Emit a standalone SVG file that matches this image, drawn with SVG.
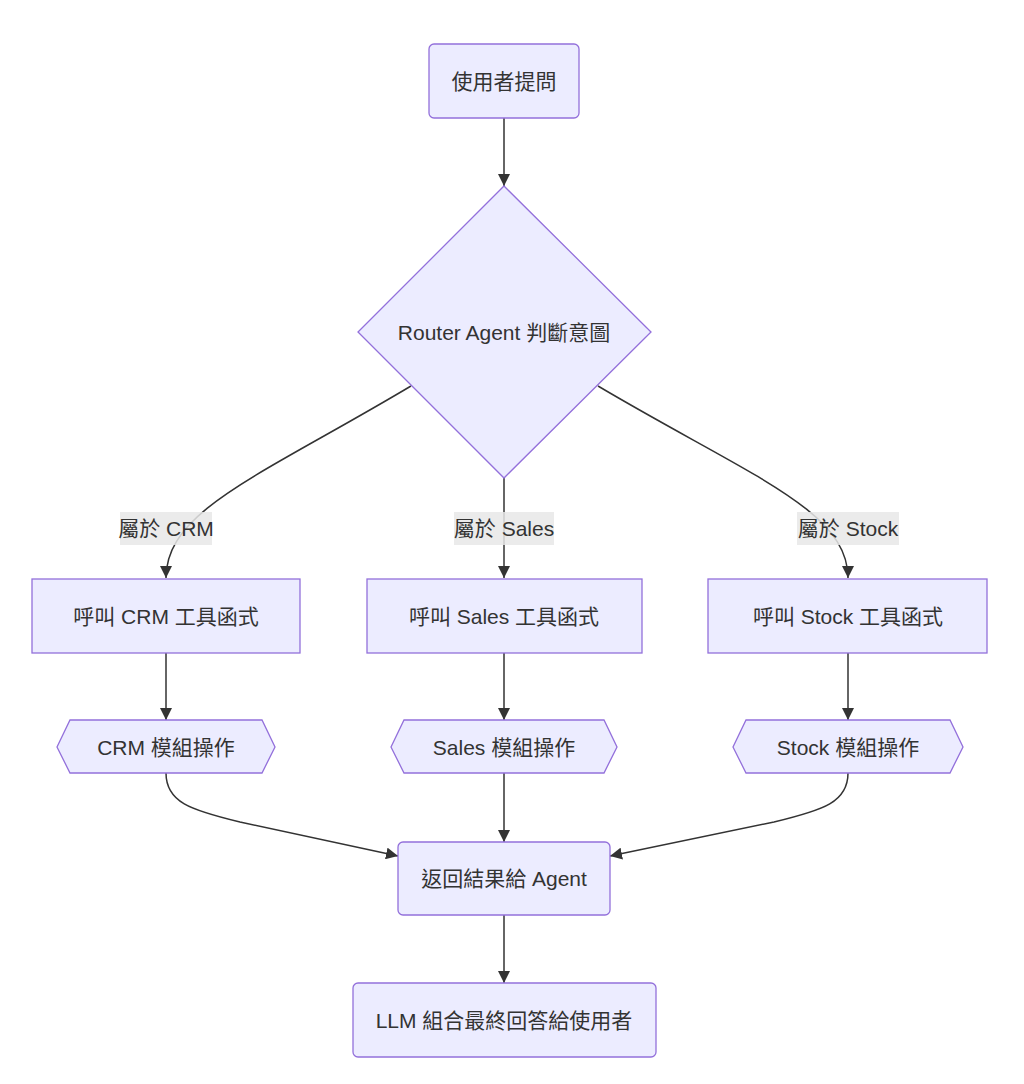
<svg xmlns="http://www.w3.org/2000/svg" width="1024" height="1084" viewBox="0 0 1024 1084">
<defs>
<style>
.node{fill:#ECECFF;stroke:#9370DB;stroke-width:1.3}
.lbl{font-family:"Liberation Sans","Noto Sans CJK TC",sans-serif;font-size:21px;fill:#333;text-anchor:middle;dominant-baseline:central}
.edge{fill:none;stroke:#333;stroke-width:1.5}
.elbg{fill:#e8e8e8;opacity:0.85}
</style>
<marker id="arr" viewBox="0 0 10 10" refX="10" refY="5" markerUnits="userSpaceOnUse" markerWidth="12" markerHeight="12" orient="auto">
<path d="M0,0 L10,5 L0,10 z" fill="#333"/>
</marker>
</defs>
<rect width="1024" height="1084" fill="#fff"/>
<g id="connectors">
<path class="edge" d="M504,118 L504,186" marker-end="url(#arr)"/>
<path class="edge" d="M411,386 C260,476 166,510 166,578" marker-end="url(#arr)"/>
<path class="edge" d="M504,478 L504,578" marker-end="url(#arr)"/>
<path class="edge" d="M598,386 C750,476 848,510 848,578" marker-end="url(#arr)"/>
<path class="edge" d="M166,653 L166,720" marker-end="url(#arr)"/>
<path class="edge" d="M504,653 L504,720" marker-end="url(#arr)"/>
<path class="edge" d="M848,653 L848,720" marker-end="url(#arr)"/>
<path class="edge" d="M166,773 C166,802 190,810 240,822 L398,856" marker-end="url(#arr)"/>
<path class="edge" d="M504,773 L504,842" marker-end="url(#arr)"/>
<path class="edge" d="M848,773 C848,802 824,810 774,822 L610,856" marker-end="url(#arr)"/>
<path class="edge" d="M504,915 L504,983" marker-end="url(#arr)"/>
</g>
<g id="edge-labels">
<g id="el-crm"><rect class="elbg" x="120" y="512" width="92" height="33"/><text class="lbl" x="166" y="528">屬於 CRM</text></g>
<g id="el-sales"><rect class="elbg" x="454" y="512" width="100" height="33"/><text class="lbl" x="504" y="528">屬於 Sales</text></g>
<g id="el-stock"><rect class="elbg" x="797" y="512" width="102" height="33"/><text class="lbl" x="848" y="528">屬於 Stock</text></g>
</g>
<g id="A"><rect class="node" x="429" y="44" width="150" height="74" rx="5"/><text class="lbl" x="504" y="81">使用者提問</text></g>
<g id="B"><polygon class="node" points="504,186 651,332 504,478 358,332"/><text class="lbl" x="504" y="332">Router Agent 判斷意圖</text></g>
<g id="C1"><rect class="node" x="32" y="579" width="268" height="74"/><text class="lbl" x="166" y="616">呼叫 CRM 工具函式</text></g>
<g id="C2"><rect class="node" x="367" y="579" width="275" height="74"/><text class="lbl" x="504" y="616">呼叫 Sales 工具函式</text></g>
<g id="C3"><rect class="node" x="708" y="579" width="279" height="74"/><text class="lbl" x="848" y="616">呼叫 Stock 工具函式</text></g>
<g id="D1"><polygon class="node" points="57,747 70,720 262,720 275,747 262,773 70,773"/><text class="lbl" x="166" y="747">CRM 模組操作</text></g>
<g id="D2"><polygon class="node" points="391,747 404,720 604,720 617,747 604,773 404,773"/><text class="lbl" x="504" y="747">Sales 模組操作</text></g>
<g id="D3"><polygon class="node" points="733,747 746,720 950,720 963,747 950,773 746,773"/><text class="lbl" x="848" y="747">Stock 模組操作</text></g>
<g id="E"><rect class="node" x="398" y="842" width="212" height="73" rx="5"/><text class="lbl" x="504" y="878">返回結果給 Agent</text></g>
<g id="F"><rect class="node" x="353" y="983" width="303" height="74" rx="5"/><text class="lbl" x="504" y="1020">LLM 組合最終回答給使用者</text></g>
</svg>
